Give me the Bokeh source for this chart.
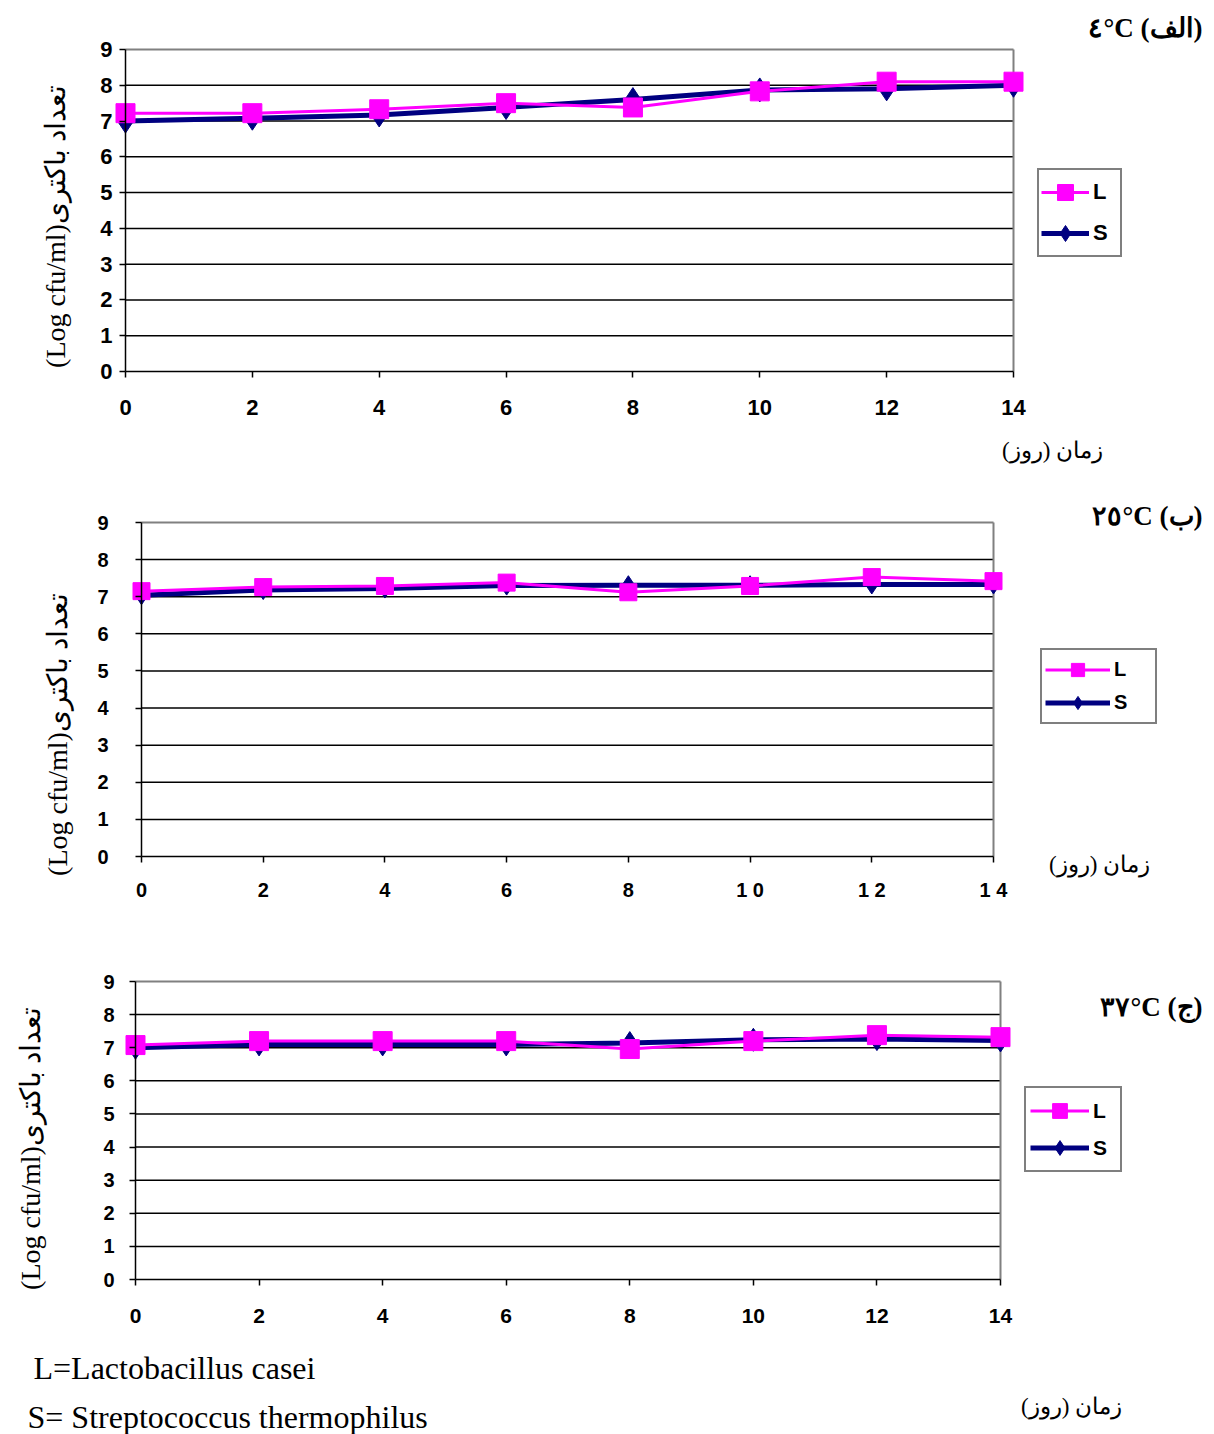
from math import pi
from bokeh.plotting import figure
from bokeh.models import Range1d, Label, Legend, LegendItem, FixedTicker
from bokeh.layouts import column
from bokeh.embed import file_html
from bokeh.resources import INLINE

# ---------------- data ----------------
days = [0, 2, 4, 6, 8, 10, 12, 14]
L_4C = [7.22, 7.22, 7.33, 7.50, 7.38, 7.83, 8.10, 8.10]
S_4C = [7.00, 7.08, 7.17, 7.38, 7.60, 7.87, 7.90, 8.00]
L_25C = [7.15, 7.26, 7.29, 7.38, 7.12, 7.29, 7.53, 7.42]
S_25C = [7.04, 7.18, 7.22, 7.30, 7.31, 7.31, 7.33, 7.33]
L_37C = [7.08, 7.20, 7.20, 7.20, 6.96, 7.20, 7.38, 7.32]
S_37C = [7.00, 7.10, 7.10, 7.10, 7.14, 7.24, 7.26, 7.22]
y_ticks = [0, 1, 2, 3, 4, 5, 6, 7, 8, 9]
x_labels_plain = {d: str(d) for d in days}
x_labels_spaced = {0: "0", 2: "2", 4: "4", 6: "6", 8: "8", 10: "1 0", 12: "1 2", 14: "1 4"}
titles = ["٤°C (الف)", "٢٥°C (ب)", "٣٧°C (ج)"]
y_title = "(Log cfu/ml)تعداد باکتری"
x_title = "زمان (روز)"
note_L = "L=Lactobacillus casei"
note_S = "S= Streptococcus thermophilus"

PINK = "#FF00FF"
NAVY = "#000080"
GRAY = "#808080"
SERIF = "Liberation Serif"
SANS = "Liberation Sans"
W = 1212
PAGE = 0


def make_panel(L, S, title, cfg):
    x0, x14, y9, y0 = cfg["x0"], cfg["x14"], cfg["y9"], cfg["y0"]
    fig_top, H = cfg["fig_top"], cfg["height"]
    u = (x14 - x0) / 14.0
    v = (y0 - y9) / 9.0

    def dx(px):
        return (px - x0) / u

    def dy(py):
        return (y0 - py) / v

    p = figure(width=W, height=H,
               x_range=Range1d(dx(PAGE), dx(PAGE + W)),
               y_range=Range1d(dy(fig_top + H), dy(fig_top)),
               output_backend="svg", toolbar_location=None, tools="",
               min_border=0, min_border_left=0, min_border_right=0,
               min_border_top=0, min_border_bottom=0)
    p.outline_line_color = None
    p.xgrid.visible = False
    p.ygrid.visible = False
    p.background_fill_color = "white"

    # y axis at x = 0
    yax = p.yaxis[0]
    yax.fixed_location = 0
    yax.bounds = (0, 9)
    yax.ticker = FixedTicker(ticks=y_ticks)
    yax.axis_line_color = "black"
    yax.axis_line_width = 1.5
    yax.major_tick_line_color = "black"
    yax.major_tick_line_width = 1.5
    yax.major_tick_in = 0
    yax.major_tick_out = 6
    yax.minor_tick_line_color = None
    yax.major_label_standoff = cfg["y_standoff"]
    yax.major_label_text_font = SANS
    yax.major_label_text_font_style = "bold"
    yax.major_label_text_font_size = cfg["ytick_size"]
    yax.major_label_text_color = "black"

    # x axis at y = 0
    xax = p.xaxis[0]
    xax.fixed_location = 0
    xax.bounds = (0, 14)
    xax.ticker = FixedTicker(ticks=days)
    xax.major_label_overrides = cfg["xlabels"]
    xax.axis_line_color = "black"
    xax.axis_line_width = 1.5
    xax.major_tick_line_color = "black"
    xax.major_tick_line_width = 1.5
    xax.major_tick_in = 0
    xax.major_tick_out = 6
    xax.minor_tick_line_color = None
    xax.major_label_standoff = cfg["x_standoff"]
    xax.major_label_text_font = SANS
    xax.major_label_text_font_style = "bold"
    xax.major_label_text_font_size = cfg["xtick_size"]
    xax.major_label_text_color = "black"

    # horizontal gridlines
    gy = [t for t in y_ticks if 0 < t < 9]
    p.segment(x0=[0] * len(gy), y0=gy, x1=[14] * len(gy), y1=gy,
              line_color="black", line_width=1.5)
    # top and right border of the plot area
    p.segment(x0=[0, 14], y0=[9, 0], x1=[14, 14], y1=[9, 9], line_color=GRAY, line_width=2)

    # series
    lS = p.line(days, S, line_color=NAVY, line_width=5)
    mS = p.scatter(days, S, marker="diamond", size=cfg["dm"], fill_color=NAVY, line_color=NAVY)
    lL = p.line(days, L, line_color=PINK, line_width=3)
    mL = p.scatter(days, L, marker="square", size=cfg["sq"], fill_color=PINK, line_color=PINK)

    bx0, by0, bx1, by1 = cfg["leg_box"]
    legend = Legend(items=[LegendItem(label="L", renderers=[lL, mL]),
                           LegendItem(label="S", renderers=[lS, mS])],
                    location=(bx0 - PAGE, fig_top + H - by1), margin=0,
                    padding=cfg["leg_pad"], spacing=cfg["leg_spacing"],
                    glyph_width=cfg["glyph_w"], glyph_height=cfg["row_h"],
                    label_height=cfg["row_h"], label_width=cfg["label_w"],
                    label_standoff=4,
                    label_text_font=SANS, label_text_font_style="bold",
                    label_text_font_size=cfg["leg_font"], label_text_color="black",
                    border_line_color="black", border_line_width=2,
                    background_fill_color="white", background_fill_alpha=1.0)
    p.add_layout(legend)

    # texts
    tx, ty = cfg["title_pos"]
    p.add_layout(Label(x=dx(tx), y=dy(ty), text=title, text_align="right",
                       text_baseline="middle", text_font=SERIF, text_font_style="bold",
                       text_font_size="27px", text_color="black"))
    yx, yy = cfg["ylab_pos"]
    p.add_layout(Label(x=dx(yx), y=dy(yy), text=y_title, angle=pi / 2,
                       text_align="center", text_baseline="middle", text_font=SERIF,
                       text_font_size="28px", text_color="black"))
    xx, xy = cfg["xlab_pos"]
    p.add_layout(Label(x=dx(xx), y=dy(xy), text=x_title, text_align="center",
                       text_baseline="middle", text_font=SERIF,
                       text_font_size="23px", text_color="black"))
    for (t, lx, ly) in cfg.get("notes", []):
        p.add_layout(Label(x=dx(lx), y=dy(ly), text=t, text_align="left",
                           text_baseline="middle", text_font=SERIF,
                           text_font_size="32px", text_color="black"))
    return p


cfg1 = dict(x0=125, x14=1013, y9=49, y0=371, fig_top=0, height=475,
            y_standoff=7, x_standoff=22, ytick_size="22px", xtick_size="22px",
            xlabels=x_labels_plain, sq=19, dm=24,
            leg_box=(1037, 172, 1120, 257), leg_pad=2, leg_spacing=1, row_h=40,
            glyph_w=48, label_w=25, leg_font="22px",
            title_pos=(1202, 27), ylab_pos=(55, 226), xlab_pos=(1052, 450))
cfg2 = dict(x0=141, x14=993, y9=522, y0=856, fig_top=475, height=440,
            y_standoff=27, x_standoff=16, ytick_size="20px", xtick_size="20px",
            xlabels=x_labels_spaced, sq=17, dm=19,
            leg_box=(1040, 653, 1155, 724), leg_pad=3, leg_spacing=0, row_h=33,
            glyph_w=65, label_w=38, leg_font="20px",
            title_pos=(1202, 515), ylab_pos=(57, 734), xlab_pos=(1099, 864))
cfg3 = dict(x0=135, x14=1000, y9=981, y0=1279, fig_top=915, height=519,
            y_standoff=15, x_standoff=23, ytick_size="20px", xtick_size="21px",
            xlabels=x_labels_plain, sq=19, dm=23,
            leg_box=(1024, 1090, 1120, 1172), leg_pad=4, leg_spacing=0, row_h=37,
            glyph_w=59, label_w=23, leg_font="21px",
            title_pos=(1202, 1006), ylab_pos=(30, 1148), xlab_pos=(1071, 1406),
            notes=[(note_L, 33, 1367), (note_S, 27, 1416)])

p1 = make_panel(L_4C, S_4C, titles[0], cfg1)
p2 = make_panel(L_25C, S_25C, titles[1], cfg2)
p3 = make_panel(L_37C, S_37C, titles[2], cfg3)

layout = column(p1, p2, p3, spacing=0)
open("out.html", "w").write(file_html(layout, INLINE))
